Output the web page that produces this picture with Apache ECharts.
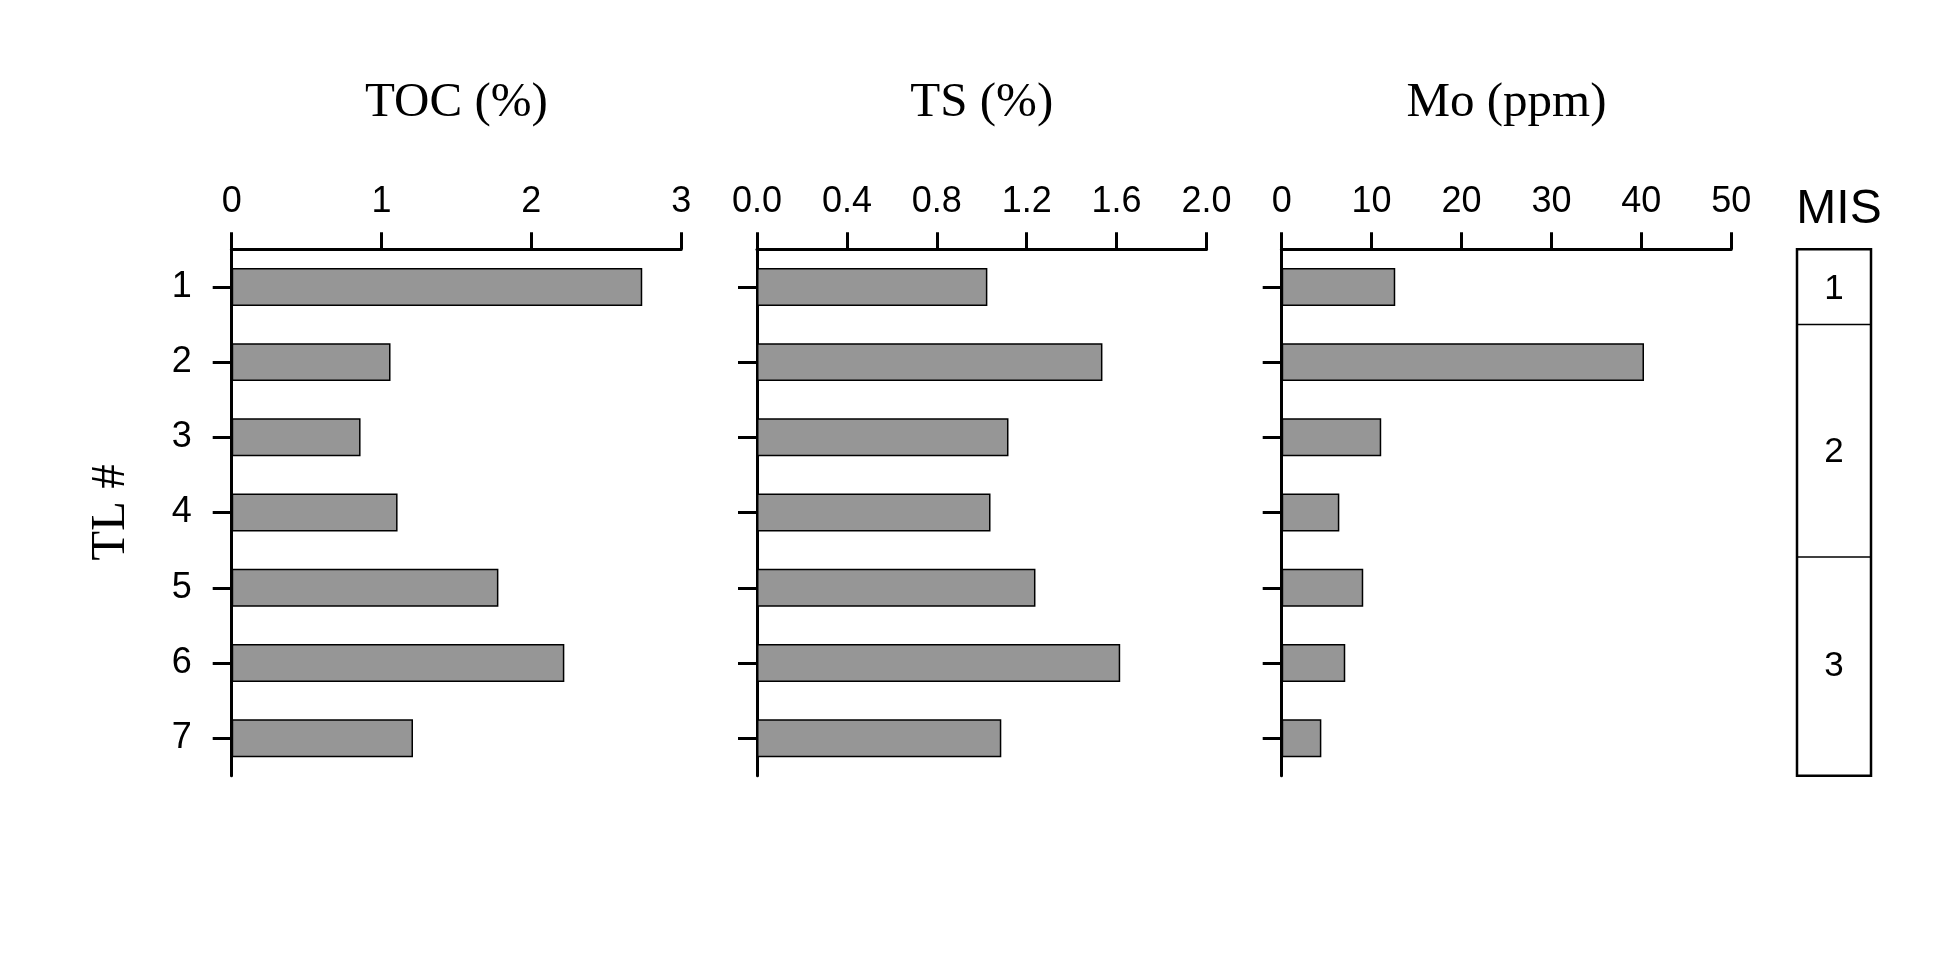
<!DOCTYPE html>
<html>
<head>
<meta charset="utf-8">
<script src="https://cdn.jsdelivr.net/npm/echarts@6/dist/echarts.min.js"></script>
<style>html,body{margin:0;padding:0;background:#fff;}#c{width:1956px;height:978px;}</style>
</head>
<body>
<div id="c"></div>
<script>
const categories = ['1','2','3','4','5','6','7'];
const tocValues = [2.74, 1.06, 0.86, 1.107, 1.78, 2.22, 1.21];
const tsValues = [1.025, 1.537, 1.119, 1.039, 1.239, 1.616, 1.087];
const moValues = [12.63, 40.3, 11.07, 6.41, 9.07, 7.07, 4.41];
const panelTitles = ['TOC (%)', 'TS (%)', 'Mo (ppm)'];
const axisMax = [3, 2, 50];
const axisInterval = [1, 0.4, 10];
const misStages = ['1', '2', '3'];
const misTop = [0.5, 1.5, 4.59];
const misBottom = [1.5, 4.59, 7.5];
const misLabelAt = [1.03, 3.2, 6.05];

const chart = echarts.init(document.getElementById('c'));
const sans = 'Liberation Sans, Arial, sans-serif';
const serif = 'Liberation Serif, Times New Roman, serif';
const lefts = [231.7, 757, 1281.7];
const W = 449.5, TOP = 249.3, H = 526.5;

const grids = lefts.map(l => ({left: l, top: TOP, width: W, height: H}));
grids.push({left: 1797, top: TOP, width: 74, height: H, show: true, borderColor: '#000', borderWidth: 2.5, backgroundColor: 'transparent'});

const xAxes = [0,1,2].map(i => ({
  type: 'value', gridIndex: i, position: 'top', min: 0, max: axisMax[i], interval: axisInterval[i],
  name: panelTitles[i], nameLocation: 'middle', nameGap: 122,
  nameTextStyle: {fontFamily: serif, fontSize: 49, color: '#000'},
  axisLine: {show: true, onZero: false, lineStyle: {color: '#000', width: 3}},
  axisTick: {show: true, inside: false, length: 17, lineStyle: {color: '#000', width: 3}},
  axisLabel: {margin: 29, fontFamily: sans, fontSize: 36, color: '#000',
    formatter: v => i === 1 ? v.toFixed(1) : String(v)},
  splitLine: {show: false}
}));
xAxes.push({type: 'value', gridIndex: 3, min: 0, max: 1, show: false});

const yAxes = [0,1,2].map(i => ({
  type: 'category', gridIndex: i, data: categories, inverse: true,
  name: i === 0 ? 'TL #' : '', nameLocation: 'middle', nameGap: 96, nameRotate: 90,
  nameTextStyle: {fontFamily: serif, fontSize: 49, color: '#000'},
  axisLine: {show: true, lineStyle: {color: '#000', width: 3}},
  axisTick: {show: true, alignWithLabel: true, length: 19, lineStyle: {color: '#000', width: 3}},
  axisLabel: {show: i === 0, margin: 40, fontFamily: sans, fontSize: 36, color: '#000'},
  splitLine: {show: false}
}));
yAxes.push({type: 'value', gridIndex: 3, min: 0.5, max: 7.5, inverse: true, show: false});

const barStyle = {color: '#969696', borderColor: '#000', borderWidth: 1.5};
const series = [tocValues, tsValues, moValues].map((vals, i) => ({
  type: 'bar', xAxisIndex: i, yAxisIndex: i, data: vals, barWidth: '50.5%',
  itemStyle: barStyle, silent: true, animation: false
}));

series.push({
  type: 'custom', xAxisIndex: 3, yAxisIndex: 3, animation: false, silent: true,
  data: misStages.map((s, i) => [misTop[i], misBottom[i], misLabelAt[i], i]),
  renderItem: function (params, api) {
    const idx = api.value(3);
    const children = [];
    if (idx > 0) {
      const p0 = api.coord([0, api.value(0)]);
      const p1 = api.coord([1, api.value(0)]);
      children.push({type: 'line', shape: {x1: p0[0], y1: p0[1], x2: p1[0], y2: p1[1]},
        style: {stroke: '#000', lineWidth: 1.5}});
    }
    const pl = api.coord([0.5, api.value(2)]);
    children.push({type: 'text', x: pl[0], y: pl[1],
      style: {text: misStages[idx], fontFamily: sans, fontSize: 35, fill: '#000', align: 'center', verticalAlign: 'middle'}});
    return {type: 'group', children: children};
  }
});

chart.setOption({
  backgroundColor: '#fff',
  animation: false,
  title: {text: 'MIS', left: 1834, top: 205, textAlign: 'center', textVerticalAlign: 'middle',
    textStyle: {fontFamily: sans, fontSize: 48, fontWeight: 'normal', color: '#000'}},
  grid: grids,
  xAxis: xAxes,
  yAxis: yAxes,
  series: series
});
</script>
</body>
</html>
